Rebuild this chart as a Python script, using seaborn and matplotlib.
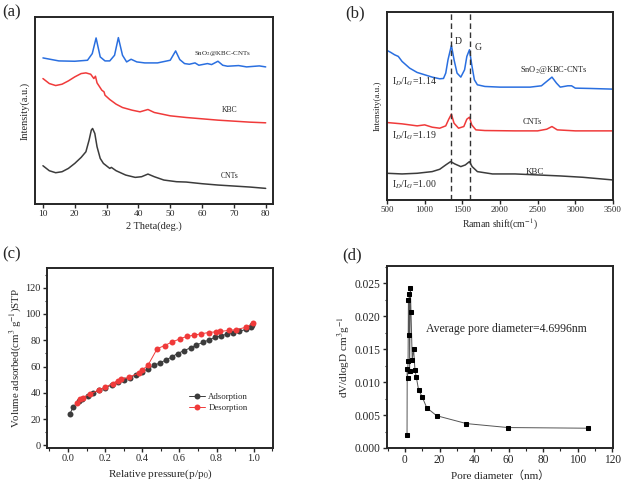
import numpy as np
import pandas as pd
import matplotlib.pyplot as plt
import seaborn as sns
from matplotlib.ticker import MultipleLocator

# ---- (a) XRD ----
xrd_x_sno2 = [10, 15, 20, 24, 25.5, 26.7, 28, 29.5, 31, 32.5, 33.7, 35, 36.3, 37.7, 39.5, 42, 46, 50,
              51.7, 53, 54.5, 56, 57.8, 59, 61.7, 63, 65, 66.5, 68, 71.5, 74, 78, 80]
xrd_y_sno2 = [439, 430, 429, 432, 452, 499, 442, 430, 430, 447, 500, 447, 427, 435, 427, 424, 424, 432,
              460, 434, 422, 420, 424, 417, 422, 419, 429, 417, 414, 416, 412, 415, 412]
xrd_x_kbc = [10, 12, 14, 16, 18, 20, 22, 23.5, 25, 26, 26.5, 27, 28.5, 29.2, 29.5, 31, 33, 35, 38, 40.5,
             43, 45, 50, 55, 60, 65, 70, 75, 80]
xrd_y_kbc = [377, 362, 356, 360, 370, 382, 392, 394, 390, 377, 384, 364, 342, 337, 327, 314, 300, 290,
             282, 277, 284, 275, 265, 260, 256, 252, 249, 246, 244]
xrd_x_cnt = [10, 12, 14, 16, 18, 20, 22, 23.5, 24.5, 25.2, 25.6, 26.3, 27, 28, 29, 31, 31.5, 33, 36, 39,
             41, 43, 45, 48, 52, 55, 60, 65, 70, 75, 80]
xrd_y_cnt = [115, 100, 94, 97, 107, 122, 140, 157, 192, 222, 227, 212, 172, 137, 122, 107, 110, 100, 87,
             80, 82, 90, 82, 72, 67, 66, 61, 57, 54, 51, 47]

# ---- (b) Raman ----
ram_x_sno2 = [500, 550, 600, 650, 700, 750, 800, 900, 1000, 1100, 1200, 1250, 1280, 1310, 1355, 1390,
              1430, 1480, 1530, 1560, 1595, 1625, 1660, 1700, 1800, 2000, 2200, 2400, 2550, 2620, 2690,
              2750, 2800, 2900, 2950, 3000, 3200, 3500]
ram_y_sno2 = [448, 442, 435, 430, 415, 405, 395, 382, 375, 368, 363, 364, 380, 420, 463, 420, 380, 368,
              390, 430, 450, 405, 360, 345, 340, 338, 338, 338, 342, 355, 368, 350, 338, 342, 342, 335,
              334, 332]
ram_x_cnt = [500, 700, 900, 1000, 1100, 1200, 1280, 1320, 1355, 1390, 1450, 1520, 1560, 1595, 1625,
             1680, 1800, 2200, 2500, 2620, 2690, 2760, 3000, 3500]
ram_y_cnt = [232, 228, 222, 225, 218, 215, 222, 242, 257, 230, 215, 220, 242, 248, 225, 210, 208, 207,
             207, 212, 220, 210, 207, 207]
ram_x_kbc = [500, 700, 900, 1100, 1200, 1280, 1345, 1400, 1480, 1540, 1595, 1630, 1700, 1900, 2200,
             2500, 2800, 3100, 3500]
ram_y_kbc = [80, 78, 80, 85, 92, 105, 115, 108, 100, 105, 115, 100, 85, 78, 78, 75, 72, 68, 60]
band_pos = [1355, 1597]
band_names = ["D", "G"]
id_ig = ["1.14", "1.19", "1.00"]

# ---- (c) N2 isotherm ----
ads_p = [0.01, 0.028, 0.059, 0.075, 0.106, 0.134, 0.166, 0.20, 0.238, 0.27, 0.30, 0.335, 0.365, 0.40,
         0.43, 0.463, 0.495, 0.528, 0.56, 0.59, 0.626, 0.66, 0.69, 0.725, 0.76, 0.79, 0.825, 0.857,
         0.89, 0.92, 0.957, 0.984, 0.993]
ads_v = [23.9, 29.2, 33.8, 35.0, 37.9, 39.9, 42.0, 44.0, 46.0, 48.3, 50.0, 51.6, 53.9, 55.9, 58.2,
         60.8, 62.8, 65.0, 67.4, 69.9, 72.2, 74.2, 76.3, 78.3, 80.3, 82.1, 83.4, 84.7, 85.7, 86.7,
         88.2, 90.3, 91.8]
des_p = [0.996, 0.96, 0.905, 0.865, 0.82, 0.796, 0.757, 0.717, 0.678, 0.64, 0.603, 0.56, 0.52, 0.48,
         0.43, 0.40, 0.38, 0.33, 0.285, 0.267, 0.24, 0.20, 0.166, 0.12, 0.08, 0.066, 0.048]
des_v = [92.8, 90.0, 88.0, 87.5, 86.7, 86.4, 85.9, 84.9, 83.9, 82.9, 81.1, 78.6, 76.0, 73.5, 60.8,
         57.5, 55.0, 51.9, 50.3, 49.3, 47.0, 44.2, 42.0, 39.2, 36.4, 35.3, 32.3]

# ---- (d) pore size distribution ----
pore_d = [1.2, 1.3, 1.5, 1.8, 2.0, 2.3, 2.5, 2.7, 3.1, 3.5, 4.2, 5.0, 5.8, 6.6, 7.9, 9.9, 12.6, 18.3,
          35.6, 59.6, 105.8]
pore_dv = [0.0019, 0.0120, 0.0106, 0.0132, 0.0224, 0.0171, 0.0233, 0.0117, 0.0243, 0.0206, 0.0134,
           0.0150, 0.0118, 0.0107, 0.0088, 0.0078, 0.0061, 0.0049, 0.0037, 0.0031, 0.0030]

BLUE = "#2a6fe0"
RED = "#f03a3a"
DARK = "#3c3c3c"

sns.set_theme(style="ticks")
plt.rcParams['font.family'] = ['Liberation Serif', 'Noto Sans CJK SC']
plt.rcParams['mathtext.fontset'] = 'stix'
plt.rcParams['axes.linewidth'] = 1.4
plt.rcParams['xtick.major.width'] = 1.0
plt.rcParams['ytick.major.width'] = 1.0
plt.rcParams['xtick.major.size'] = 3
plt.rcParams['ytick.major.size'] = 3
plt.rcParams['xtick.minor.size'] = 1.8
plt.rcParams['ytick.minor.size'] = 1.8

fig = plt.figure(figsize=(6.26, 4.84), dpi=100)
ax_a = fig.add_axes([0.0559, 0.5785, 0.3802, 0.3864])
ax_b = fig.add_axes([0.6182, 0.5868, 0.3610, 0.3884])
ax_c = fig.add_axes([0.0751, 0.0744, 0.3610, 0.3719])
ax_d = fig.add_axes([0.6182, 0.0744, 0.3610, 0.3760])

# (a)
for xs, ys, c in [(xrd_x_sno2, xrd_y_sno2, BLUE), (xrd_x_kbc, xrd_y_kbc, RED), (xrd_x_cnt, xrd_y_cnt, DARK)]:
    sns.lineplot(x=xs, y=ys, color=c, lw=1.1, ax=ax_a)
ax_a.set_xlim(7.5, 82.3)
ax_a.set_ylim(0, 562)
ax_a.set_yticks([])
ax_a.xaxis.set_major_locator(MultipleLocator(10))
ax_a.tick_params(labelsize=6.8, pad=1.5)
ax_a.set_xlabel("2 Theta(deg.)", fontsize=7.5, labelpad=2)
ax_a.set_ylabel("Intensity(a.u.)", fontsize=7.5, labelpad=4)
ax_a.text(66.5, 452, "SnO$_2$@KBC-CNTs", fontsize=5, ha="center", va="center")
ax_a.text(68.8, 282, "KBC", fontsize=5.5, ha="center", va="center")
ax_a.text(68.8, 84, "CNTs", fontsize=5.5, ha="center", va="center")

# (b)
for xs, ys, c in [(ram_x_sno2, ram_y_sno2, BLUE), (ram_x_cnt, ram_y_cnt, RED), (ram_x_kbc, ram_y_kbc, DARK)]:
    sns.lineplot(x=xs, y=ys, color=c, lw=1.1, ax=ax_b)
for pos in band_pos:
    ax_b.axvline(pos, color="#333333", ls=(0, (4, 2.5)), lw=1.0)
ax_b.text(1447, 475, band_names[0], fontsize=7, ha="center", va="center")
ax_b.text(1705, 457, band_names[1], fontsize=7, ha="center", va="center")
ax_b.set_xlim(500, 3500)
ax_b.set_ylim(0, 563)
ax_b.set_yticks([])
ax_b.xaxis.set_major_locator(MultipleLocator(500))
ax_b.tick_params(labelsize=6.3, pad=1.5)
ax_b.set_xlabel("Raman shift(cm$^{-1}$)", fontsize=7, labelpad=2)
ax_b.set_ylabel("Intensity(a.u.)", fontsize=6.5, labelpad=4)
for yv, r in zip([345, 185, 37], id_ig):
    ax_b.text(560, yv, "I$_D$/I$_G$=" + r, fontsize=7, ha="left", va="baseline")
ax_b.text(2713, 390, "SnO$_2$@KBC-CNTs", fontsize=6, ha="center", va="center")
ax_b.text(2424, 235, "CNTs", fontsize=6, ha="center", va="center")
ax_b.text(2469, 85, "KBC", fontsize=6.5, ha="center", va="center")

# (c)
iso = pd.concat([
    pd.DataFrame({"p": ads_p, "v": ads_v, "branch": "Adsorption"}),
    pd.DataFrame({"p": des_p, "v": des_v, "branch": "Desorption"}),
])
sns.lineplot(data=iso, x="p", y="v", hue="branch", palette=[DARK, RED], sort=False,
             marker="o", markersize=4.3, markeredgewidth=0, lw=0.7, ax=ax_c)
ax_c.set_xlim(-0.113, 1.104)
ax_c.set_ylim(-2, 135)
ax_c.xaxis.set_major_locator(MultipleLocator(0.2))
ax_c.xaxis.set_minor_locator(MultipleLocator(0.1))
ax_c.yaxis.set_major_locator(MultipleLocator(20))
ax_c.yaxis.set_minor_locator(MultipleLocator(10))
ax_c.tick_params(labelsize=7.5, pad=1.5)
ax_c.tick_params(which="minor", width=0.8)
ax_c.set_xlabel("Relative pressure(p/p$_0$)", fontsize=8, labelpad=3)
ax_c.set_ylabel("Volume adsorbed(cm$^3$ g$^{-1}$)STP", fontsize=7.8, labelpad=2)
ax_c.legend(frameon=False, fontsize=6.3, loc="lower right", bbox_to_anchor=(0.925, 0.155),
            handlelength=1.8, handletextpad=0.4, labelspacing=0.3, title=None)

# (d)
pores = pd.DataFrame({"d": pore_d, "dv": pore_dv})
sns.lineplot(data=pores, x="d", y="dv", sort=False, color="#555555", lw=0.7,
             marker="s", markersize=3.5, markerfacecolor="black", markeredgecolor="black", ax=ax_d)
ax_d.set_xlim(-10.4, 120.4)
ax_d.set_ylim(0, 0.0276)
ax_d.xaxis.set_major_locator(MultipleLocator(20))
ax_d.xaxis.set_minor_locator(MultipleLocator(10))
ax_d.yaxis.set_major_locator(MultipleLocator(0.005))
ax_d.yaxis.set_minor_locator(MultipleLocator(0.0025))
ax_d.yaxis.set_major_formatter(plt.FormatStrFormatter("%.3f"))
ax_d.tick_params(labelsize=8.3, pad=1.5)
ax_d.tick_params(which="minor", width=0.8)
ax_d.set_xlabel("Pore diameter（nm）", fontsize=8, labelpad=3)
ax_d.set_ylabel("dV/dlogD cm$^3$g$^{-1}$", fontsize=8, labelpad=2)
ax_d.text(12, 0.0180, "Average pore diameter=4.6996nm", fontsize=8.5, ha="left", va="center")

for lab, (x, y) in zip(["(a)", "(b)", "(c)", "(d)"], [(0.003, 0.975), (0.551, 0.972), (0.003, 0.475), (0.546, 0.473)]):
    fig.text(x, y, lab, fontsize=12, ha="left", va="center")

fig.savefig("out.png", dpi=100)
